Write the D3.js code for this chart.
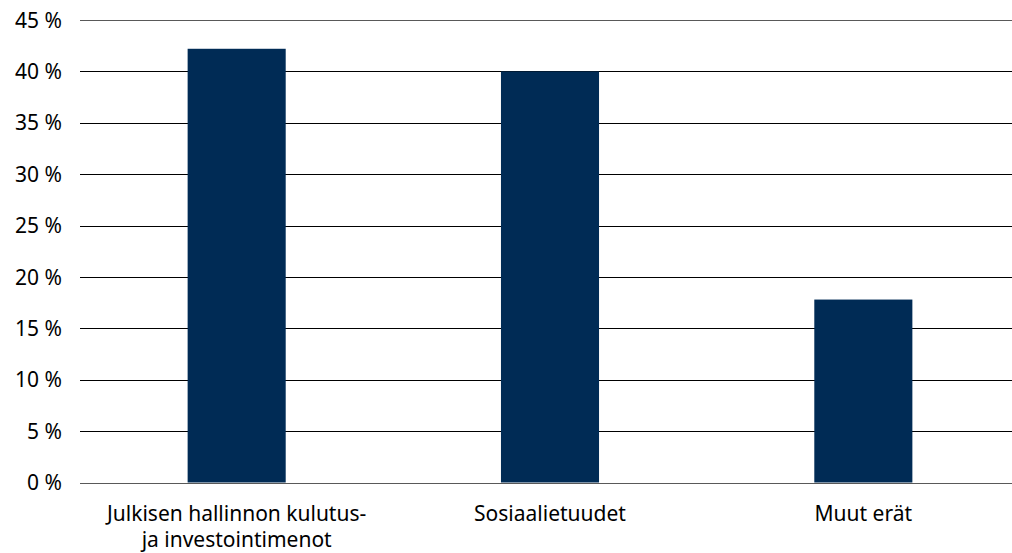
<!DOCTYPE html>
<html>
<head>
<meta charset="utf-8">
<script src="https://cdn.jsdelivr.net/npm/d3@7"></script>
<style>
  html, body { margin: 0; padding: 0; background: #fff; }
  svg text { font-family: "Noto Sans", "Open Sans", sans-serif; fill: #000; }
</style>
</head>
<body>
<svg id="chart" width="1012" height="553"></svg>
<script>
// Category labels (line breaks shown with \n)
const categories = ["Julkisen hallinnon kulutus-\nja investointimenot", "Sosiaalietuudet", "Muut erät"];
// Share of total, percent
const values = [42.2, 40.0, 17.8];
// Y-axis ticks
const yTicks = [0, 5, 10, 15, 20, 25, 30, 35, 40, 45];

const svg = d3.select("#chart");
const plotLeft = 80, plotRight = 1020, plotTop = 20, plotBottom = 482.5;

const x = d3.scaleBand()
  .domain(categories)
  .range([plotLeft, plotRight])
  .paddingInner(0.687)
  .paddingOuter(0.3435);

const y = d3.scaleLinear().domain([0, 45]).range([plotBottom, plotTop]);

// Gridlines
svg.append("g").selectAll("line")
  .data(yTicks)
  .join("line")
  .attr("x1", plotLeft).attr("x2", 1012)
  .attr("y1", d => Math.round(y(d)) + 0.5)
  .attr("y2", d => Math.round(y(d)) + 0.5)
  .attr("stroke", d => (d === 0 || d === 45) ? "#595959" : "#000")
  .attr("stroke-width", 1);

// Y tick labels
svg.append("g").selectAll("text")
  .data(yTicks)
  .join("text")
  .attr("x", 62)
  .attr("y", d => y(d))
  .attr("dy", "0.36em")
  .attr("text-anchor", "end")
  .attr("font-size", 21)
  .text(d => d + " %");

// Bars
svg.append("g").selectAll("rect")
  .data(values)
  .join("rect")
  .attr("x", (d, i) => x(categories[i]))
  .attr("y", d => y(d))
  .attr("width", x.bandwidth())
  .attr("height", d => y(0) - y(d))
  .attr("fill", "#002b55");

// Redraw the baseline over the bars
svg.append("line")
  .attr("x1", plotLeft).attr("x2", 1012)
  .attr("y1", Math.round(y(0)) + 0.5).attr("y2", Math.round(y(0)) + 0.5)
  .attr("stroke", "#595959");

// Category labels
const lab = svg.append("g").selectAll("text")
  .data(categories)
  .join("text")
  .attr("x", d => x(d) + x.bandwidth() / 2)
  .attr("y", 521)
  .attr("text-anchor", "middle")
  .attr("font-size", 21);
lab.each(function(d) {
  const t = d3.select(this);
  d.split("\n").forEach((line, i) => {
    t.append("tspan")
      .attr("x", t.attr("x"))
      .attr("dy", i === 0 ? 0 : 26)
      .text(line);
  });
});
</script>
</body>
</html>
